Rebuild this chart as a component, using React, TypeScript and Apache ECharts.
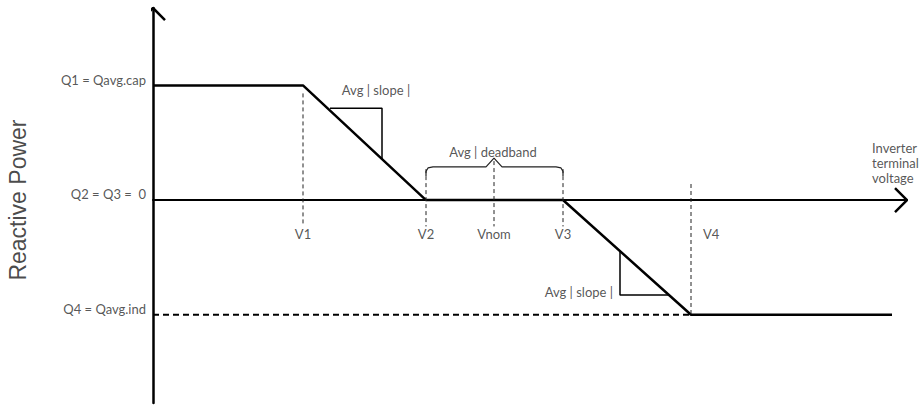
import React, { useEffect, useRef } from "react";
import * as echarts from "echarts";

// Voltage break points (x, arbitrary units along the voltage axis)
const vLabels = ["V1", "V2", "Vnom", "V3", "V4"];
const vPos = [150, 273, 341, 410, 538];
const vTop = [0.93, 0.27, 0.34, 0.27, 0.14];
const vBottom = [-0.22, -0.23, -0.23, -0.23, -1];

// Reactive power levels
const qLabels = ["Q1 = Qavg.cap", "Q2 = Q3 =  0", "Q4 = Qavg.ind"];
const qVals = [1, 0, -1];

// Volt-var characteristic
const curveX = [0, 150, 273, 410, 538, 739];
const curveQ = [1, 1, 0, 0, -1, -1];

// slope triangles
const tri1 = [[177, 0.8], [229, 0.8], [229, 0.358]];
const tri2 = [[467, -0.445], [467, -0.828], [515, -0.828]];

// deadband brace
const brace = [
  [273, 0.21], [273, 0.25], [275, 0.28], [280, 0.29], [333, 0.29], [341, 0.366],
  [349, 0.29], [403, 0.29], [408, 0.28], [410, 0.25], [410, 0.21],
];

const xMax = 754;
const yMin = -1.77;
const yMax = 1.675;

export default function App() {
  const ref = useRef<HTMLDivElement>(null);
  useEffect(() => {
    if (!ref.current) return;
    const chart = echarts.init(ref.current, undefined, { renderer: "svg" });
    const font = "Lato, 'Noto Sans', sans-serif";
    const txt = "#2b2b2b";

    const vertSeries = vPos.map((x, i) => ({
      type: "line",
      data: [[x, vTop[i]], [x, vBottom[i]]],
      symbol: "none",
      silent: true,
      clip: false,
      lineStyle: { color: "#222", width: 1, type: [4, 3] },
    }));

    const labelPoint = (x: number, y: number, text: string, extra: any = {}) => ({
      value: [x, y],
      label: {
        show: true,
        formatter: text,
        position: "inside",
        color: txt,
        fontSize: 13,
        fontFamily: font,
        ...extra,
      },
    });

    const labels = [
      ...vLabels.map((l, i) =>
        labelPoint(l === "V4" ? vPos[i] + 12 : vPos[i], -0.296, l, l === "V4" ? { align: "left" } : {})
      ),
      ...qLabels.map((l, i) =>
        labelPoint(-7, qVals[i] + 0.05, l, { align: "right" })
      ),
      labelPoint(223, 0.96, "Avg | slope |"),
      labelPoint(460, -0.8, "Avg | slope |", { align: "right" }),
      labelPoint(340, 0.42, "Avg | deadband"),
      labelPoint(719, 0.323, "Inverter\nterminal\nvoltage", { align: "left", lineHeight: 15 }),
      labelPoint(-135, 0, "Reactive Power", {
        rotate: 90,
        fontSize: 23,
        color: "#1a1a1a",
        fontFamily: "'Liberation Sans', Arial, sans-serif",
      }),
    ];

    chart.setOption({
      animation: false,
      grid: { left: 153, right: 13, top: 8, bottom: 3 },
      xAxis: {
        type: "value",
        min: 0,
        max: xMax,
        axisLine: { show: true, onZero: true, lineStyle: { color: "#000", width: 2 } },
        axisTick: { show: false },
        axisLabel: { show: false },
        splitLine: { show: false },
      },
      yAxis: {
        type: "value",
        min: yMin,
        max: yMax,
        axisLine: { show: true, onZero: false, lineStyle: { color: "#000", width: 2.5 } },
        axisTick: { show: false },
        axisLabel: { show: false },
        splitLine: { show: false },
      },
      series: [
        {
          type: "line",
          data: curveX.map((x, i) => [x, curveQ[i]]),
          symbol: "none",
          clip: false,
          lineStyle: { color: "#000", width: 2.5 },
        },
        {
          type: "line",
          data: [[0, qVals[2]], [vPos[4], qVals[2]]],
          symbol: "none",
          clip: false,
          lineStyle: { color: "#000", width: 2, type: [6, 4] },
        },
        ...vertSeries,
        {
          type: "line",
          data: tri1,
          symbol: "none",
          clip: false,
          lineStyle: { color: "#000", width: 1.5 },
        },
        {
          type: "line",
          data: tri2,
          symbol: "none",
          clip: false,
          lineStyle: { color: "#000", width: 1.5 },
        },
        {
          type: "line",
          data: brace,
          symbol: "none",
          clip: false,
          lineStyle: { color: "#222", width: 1.2 },
        },
        {
          type: "line",
          data: [[742, 0.105], [xMax, 0], [742, -0.105]],
          symbol: "none",
          clip: false,
          lineStyle: { color: "#000", width: 2.5 },
        },
        {
          type: "line",
          data: [[-12, yMax - 0.105], [0, yMax], [12, yMax - 0.105]],
          symbol: "none",
          clip: false,
          lineStyle: { color: "#000", width: 2.5 },
        },
        {
          type: "scatter",
          data: labels,
          symbolSize: 1,
          itemStyle: { color: "rgba(0,0,0,0)" },
          silent: true,
          clip: false,
        },
      ],
    });
    return () => chart.dispose();
  }, []);
  return (
    <div
      ref={ref}
      style={{ position: "fixed", left: 0, top: 0, width: 920, height: 406, background: "#fff" }}
    />
  );
}
